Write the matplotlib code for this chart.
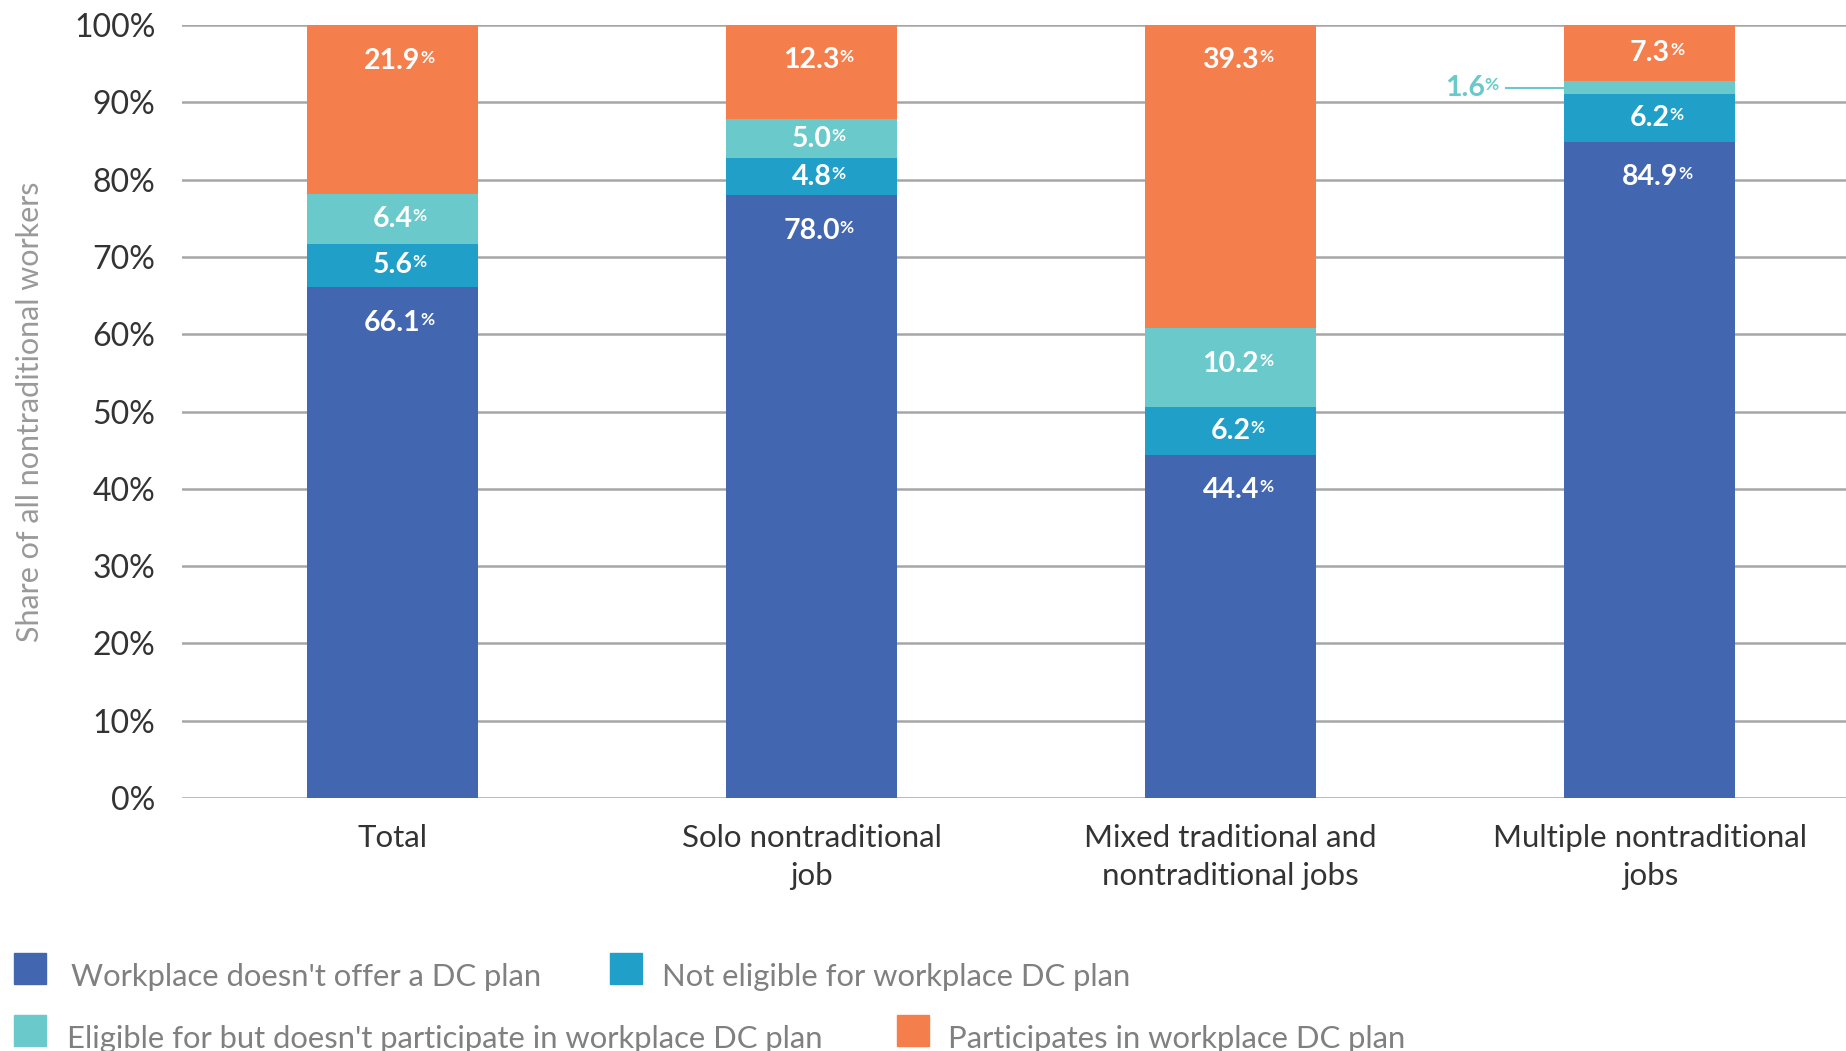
"""Stacked bars: DC plan access among nontraditional workers."""

import matplotlib

matplotlib.use("Agg")
import matplotlib.pyplot as plt
from matplotlib.patches import Rectangle
import numpy as np

plt.rcParams["font.family"] = ["Lato", "DejaVu Sans"]

categories = [
    "Total",
    "Solo nontraditional\njob",
    "Mixed traditional and\nnontraditional jobs",
    "Multiple nontraditional\njobs",
]
series_names = [
    "Workplace doesn't offer a DC plan",
    "Not eligible for workplace DC plan",
    "Eligible for but doesn't participate in workplace DC plan",
    "Participates in workplace DC plan",
]
no_plan = [66.1, 78.0, 44.4, 84.9]
not_eligible = [5.6, 4.8, 6.2, 6.2]
eligible_no_part = [6.4, 5.0, 10.2, 1.6]
participates = [21.9, 12.3, 39.3, 7.3]

colors = ["#4366B0", "#209FC8", "#6AC9CB", "#F47E4C"]
yticks = list(range(0, 101, 10))

W, H = 1846, 1051
fig = plt.figure(figsize=(W / 100, H / 100), dpi=100)
ax = fig.add_axes([182 / W, 1 - 798 / H, 1 - 182 / W, (798 - 25) / H])

x = np.arange(len(categories))
width = 0.408
series = [no_plan, not_eligible, eligible_no_part, participates]
bottom = np.zeros(len(categories))

for vals, c in zip(series, colors):
    vals = np.array(vals)
    ax.bar(x, vals, width, bottom=bottom, color=c, zorder=3)
    for xi, b, v in zip(x, bottom, vals):
        if v < 3:
            continue
        top = b + v
        y = max(b + v / 2, top - 4.6)
        t = ax.text(xi, y, f"{v:.1f}", ha="center", va="center",
                    color="white", fontsize=20.5, fontweight="bold", zorder=5)
        ax.annotate("%", xy=(1.0, 0.92), xycoords=t, ha="left", va="top",
                    color="white", fontsize=12.5, fontweight="bold", zorder=5)
    bottom = bottom + vals

# small 1.6% segment gets an outside label with a leader line
i = 3
seg_mid = no_plan[i] + not_eligible[i] + eligible_no_part[i] / 2
ax.plot([x[i] - 0.344, x[i] - width / 2], [seg_mid, seg_mid],
        color=colors[2], lw=1.5, zorder=4)
t = ax.text(x[i] - 0.394, seg_mid, f"{eligible_no_part[i]:.1f}", ha="right",
            va="center", color=colors[2], fontsize=20.5, fontweight="bold")
ax.annotate("%", xy=(1.0, 0.92), xycoords=t, ha="left", va="top",
            color=colors[2], fontsize=12.5, fontweight="bold")

ax.set_xlim(-0.502, 3.468)
ax.set_ylim(0, 100)
ax.set_yticks(yticks)
ax.set_yticklabels([f"{v}%" for v in yticks], fontsize=23, color="#333333")
ax.set_xticks(x)
ax.set_xticklabels(categories, fontsize=22.5, color="#333333", linespacing=1.4)
ax.tick_params(axis="both", length=0)
ax.tick_params(axis="y", pad=19)
ax.tick_params(axis="x", pad=19)
ax.grid(axis="y", color="#A6A6A6", lw=1.8, zorder=0)
for s in ax.spines.values():
    s.set_visible(False)
ax.set_ylabel("Share of all nontraditional workers", fontsize=22,
              color="#999999")
ax.yaxis.set_label_coords(-0.083, 0.5)

# legend, laid out in two flowing rows
legend_items = [
    (14, 953, 71, 0),
    (610, 953, 662, 1),
    (14, 1015, 67, 2),
    (897, 1015, 948, 3),
]
for sx, sy, tx, k in legend_items:
    fig.add_artist(Rectangle((sx / W, 1 - (sy + 31) / H), 32 / W, 31 / H,
                             transform=fig.transFigure, color=colors[k]))
    fig.text(tx / W, 1 - (sy + 24) / H, series_names[k], fontsize=22.3,
             color="#808080", va="center")

fig.savefig("out.png", dpi=100)
plt.close(fig)
